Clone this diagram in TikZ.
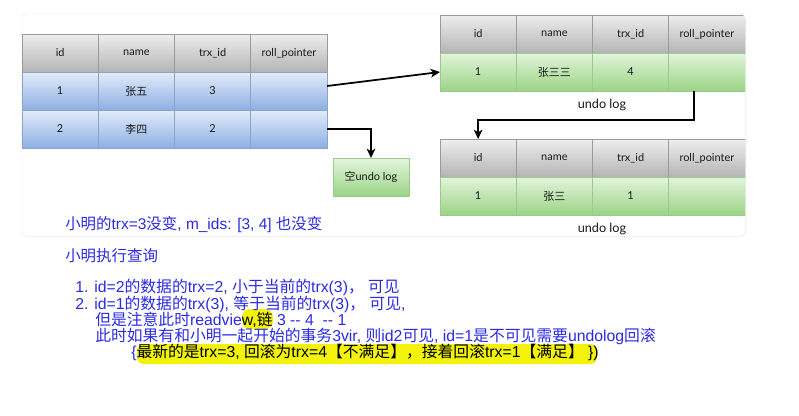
\documentclass[tikz,border=0pt]{standalone}
\usepackage{fontspec}
\setmainfont{Liberation Sans}
\newfontfamily\cjk{Noto Sans CJK SC}
\newfontfamily\cellfont{Lato}
\usetikzlibrary{arrows.meta}
\newcommand\zh[1]{{\cjk #1}}

\definecolor{hdtop}{HTML}{EEEEEE}
\definecolor{hdbot}{HTML}{B4B4B4}
\definecolor{hdline}{HTML}{9A9A9A}
\definecolor{bltop}{HTML}{E2ECFA}
\definecolor{blbot}{HTML}{8DAFE3}
\definecolor{blline}{HTML}{8FA4C4}
\definecolor{grtop}{HTML}{E3F4DC}
\definecolor{grbot}{HTML}{9BD486}
\definecolor{grline}{HTML}{9CC98C}
\definecolor{txtblue}{HTML}{2B2BE3}
\definecolor{hl}{HTML}{F2F20A}

\tikzset{
  cell/.style={minimum width=57.19pt, minimum height=28.5pt, inner sep=0pt,
    outer sep=0pt, font=\cellfont\fontsize{8.2}{10}\selectfont, text=black!90},
  hdcell/.style={cell, top color=hdtop, bottom color=hdbot, draw=hdline, line width=0.5pt},
  bluecell/.style={cell, top color=bltop, bottom color=blbot, draw=blline, line width=0.4pt},
  greencell/.style={cell, top color=grtop, bottom color=grbot, draw=grline, line width=0.4pt},
  loglabel/.style={font=\cellfont\fontsize{9.5}{11}\selectfont, text=black!90},
  arr/.style={-{Stealth[length=7pt,width=6.5pt,inset=2pt]}, line width=1.3pt, black},
  note/.style={anchor=base west, inner sep=0pt, text=txtblue},
  bignote/.style={note, font=\fontsize{11.6}{14}\selectfont},
  listnote/.style={note, font=\fontsize{11.85}{13}\selectfont},
}

\begin{document}
\begin{tikzpicture}[x=0.75pt, y=-0.75pt]
\useasboundingbox (0,0) rectangle (799,415);
\fill[white] (0,0) rectangle (799,415);

% card behind the tables
\fill[black!6, rounded corners=4pt] (21.5,13.5) rectangle (746,237);
\fill[white, rounded corners=4pt] (22,14) rectangle (745,236);

\begin{scope}
\clip[rounded corners=4pt] (22,14) rectangle (745,236);

% current rows
\foreach [count=\i] \t in {id,name,trx\_id,roll\_pointer}
  \node[hdcell] (L-h\i) at ({22+76.25*(\i-0.5)},53) {\t};
\node[bluecell] (L-a1) at (60.125,91) {1};
\node[bluecell] (L-a2) at (136.375,91) {\zh{张五}};
\node[bluecell] (L-a3) at (212.625,91) {3};
\node[bluecell] (L-a4) at (288.875,91) {};
\node[bluecell] (L-b1) at (60.125,129) {2};
\node[bluecell] (L-b2) at (136.375,129) {\zh{李四}};
\node[bluecell] (L-b3) at (212.625,129) {2};
\node[bluecell] (L-b4) at (288.875,129) {};

% first undo log
\foreach [count=\i] \t in {id,name,trx\_id,roll\_pointer}
  \node[hdcell] (T-h\i) at ({440+76.25*(\i-0.5)},34) {\t};
\node[greencell] (T-a1) at (478.125,72) {1};
\node[greencell] (T-a2) at (554.375,72) {\zh{张三三}};
\node[greencell] (T-a3) at (630.625,72) {4};
\node[greencell] (T-a4) at (706.875,72) {};
\node[loglabel] (T-log) at (602,105) {undo log};

% second undo log
\foreach [count=\i] \t in {id,name,trx\_id,roll\_pointer}
  \node[hdcell] (B-h\i) at ({440+76.25*(\i-0.5)},158) {\t};
\node[greencell] (B-a1) at (478.125,196) {1};
\node[greencell] (B-a2) at (554.375,196) {\zh{张三}};
\node[greencell] (B-a3) at (630.625,196) {1};
\node[greencell] (B-a4) at (706.875,196) {};
\node[loglabel] (B-log) at (602,229) {undo log};

% empty undo log
\node[greencell, minimum width=57pt] (E) at (371,177) {\zh{空}undo log};

% roll pointers
\draw[arr] ([yshift=3.75pt]L-a4.east) -- (T-a1.west);
\draw[arr] (L-b4.east) -| (E.north);
\coordinate (turn) at (694,120);
\coordinate (rp) at (694,91);
\draw[arr] (rp) -- (turn) -- (B-h1.north |- turn) -- (B-h1.north);
\end{scope}

% highlights
\fill[hl, rounded corners=6pt] (242,309) rectangle (273,329);
\fill[hl, rounded corners=5pt] (137,344) rectangle (597,364);

% notes
\node[bignote] (n1) at (65,229) {\zh{小明的}trx=3\zh{没变}, m\_ids: [3, 4] \zh{也没变}};
\node[bignote] (n2) at (65,261) {\zh{小明执行查询}};
\node[listnote] (l1) at (75,292.5) {1. id=2\zh{的数据的}trx=2, \zh{小于当前的}trx(3)\zh{，} \zh{可见}};
\node[listnote] (l2) at (75,309.5) {2. id=1\zh{的数据的}trx(3), \zh{等于当前的}trx(3)\zh{，} \zh{可见},};
\node[listnote] (l3) at (95,325.5) {\zh{但是注意此时}readvie\textcolor{black}{w,\zh{链}} 3 -{}- 4 \ -{}- 1};
\node[listnote] (l4) at (95,341.5) {\zh{此时如果有和小明一起开始的事务}3vir, \zh{则}id2\zh{可见}, id=1\zh{是不可见需要}undolog\zh{回滚}};
\node[listnote] (l5) at (131,357.5) {\{\textcolor{black}{\zh{最新的是}trx=3, \zh{回滚为}trx=4\zh{【不满足】，接着回滚}trx=1\zh{【满足】} \})}};
\end{tikzpicture}
\end{document}
